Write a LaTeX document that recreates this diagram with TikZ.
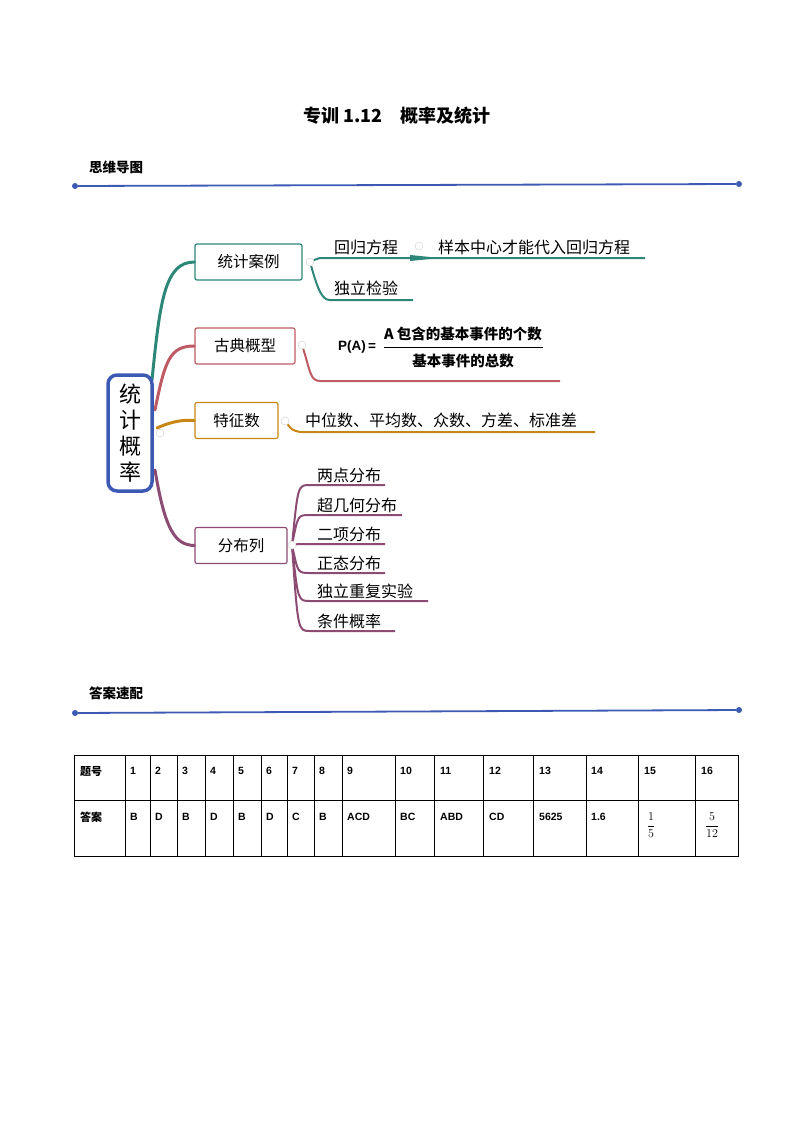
\documentclass[tikz,border=0pt]{standalone}
\usepackage{fontspec}
\setmainfont{Liberation Sans}
\newfontfamily\cjk{Noto Sans CJK SC}
\usetikzlibrary{positioning,backgrounds}
\definecolor{cteal}{RGB}{45,135,120}
\definecolor{cred}{RGB}{190,90,100}
\definecolor{cgold}{RGB}{200,135,20}
\definecolor{cpurp}{RGB}{140,75,115}
\definecolor{cblue}{RGB}{60,90,180}
\tikzset{
 box/.style={draw=#1,line width=1.2pt,rounded corners=2pt,minimum height=36pt,inner sep=0pt,font=\cjk\fontsize{15.5}{17}\selectfont},
 leaf/.style={anchor=south west,inner sep=2pt,font=\cjk\fontsize{16}{18}\selectfont},
 br/.style={draw=#1,line width=3pt,line cap=round},
 knob/.style={circle,draw=gray!40,fill=white,minimum size=8pt,inner sep=0pt},
 tcell/.style={anchor=west,font=\bfseries\fontsize{10.5}{12}\selectfont,inner sep=0pt},
}
\begin{document}
\begin{tikzpicture}[x=1pt,y=-1pt]
\useasboundingbox (0,0) rectangle (794,1123);
\node[font=\cjk\bfseries\fontsize{18}{20}\selectfont] (title) at (397,116) {专训 1.12\quad 概率及统计};
\node[anchor=west,font=\cjk\bfseries\fontsize{13.5}{15}\selectfont,inner sep=0pt] (h1) at (89,167) {思维导图};
\node[circle,fill=cblue,inner sep=0pt,minimum size=6pt] (d1a) at (75,186) {};
\node[circle,fill=cblue,inner sep=0pt,minimum size=6pt] (d1b) at (739,184) {};
\draw[cblue,line width=1.8pt] (d1a) -- (d1b);
\node[anchor=west,font=\cjk\bfseries\fontsize{13.5}{15}\selectfont,inner sep=0pt] (h2) at (89,693) {答案速配};
\node[circle,fill=cblue,inner sep=0pt,minimum size=6pt] (d2a) at (75,713) {};
\node[circle,fill=cblue,inner sep=0pt,minimum size=6pt] (d2b) at (739,710) {};
\draw[cblue,line width=1.8pt] (d2a) -- (d2b);

% mind map
\node[draw=cblue,line width=3.5pt,rounded corners=9pt,minimum width=44pt,minimum height=116pt,align=center,font=\cjk\fontsize{22}{26}\selectfont] (root) at (130,433) {统\\计\\概\\率};
\node[box=cteal,minimum width=107pt] (b1) at (248.5,262) {统计案例};
\node[box=cred,minimum width=100pt] (b2) at (245,346) {古典概型};
\node[box=cgold,minimum width=83pt] (b3) at (236.5,420.5) {特征数};
\node[box=cpurp,minimum width=92pt] (b4) at (241,545.5) {分布列};

\node[knob] (k1) at (310,262) {};
\node[knob] (k11) at (419,246) {};
\node[knob] (k2) at (302,345) {};
\node[knob] (k3) at (285,421) {};
\node[knob] (k4) at (292,545) {};
\node[knob] (k0) at (160,433) {};

\begin{scope}[on background layer]
\draw[br=cteal] (152,380) .. controls (160,300) and (165,262) .. (b1.west);
\draw[br=cred] (155,410) .. controls (165,360) and (170,346) .. (b2.west);
\draw[br=cgold] (157,428) .. controls (175,420) and (185,420) .. (b3.west);
\draw[br=cpurp] (155,470) .. controls (165,530) and (175,545) .. (b4.west);
\end{scope}

% branch 1
\node[leaf] (l11) at (332,257) {回归方程};
\node[leaf] (l12) at (436,257) {样本中心才能代入回归方程};
\coordinate (e11) at (645,258);
\node[leaf] (l13) at (332,298) {独立检验};
\coordinate (e13) at (413,300);
\begin{scope}[on background layer]
\draw[cteal,line width=2pt] (k1) .. controls (318,258) .. (330,258) -- (e11);
\fill[cteal] (410,255) -- (440,258) -- (410,261) -- cycle;
\draw[cteal,line width=2pt] (k1) .. controls (318,290) and (322,300) .. (330,300) -- (e13);
\end{scope}
% branch 2
\node[font=\bfseries\fontsize{13.5}{15}\selectfont,inner sep=0pt,anchor=west] (pa) at (338,347) {P(A)\,=};
\node[font=\cjk\bfseries\fontsize{14.5}{16}\selectfont,inner sep=1pt] (num) at (463,334) {A 包含的基本事件的个数};
\node[font=\cjk\bfseries\fontsize{14.5}{16}\selectfont,inner sep=1pt] (den) at (463,361) {基本事件的总数};
\draw[line width=0.7pt] (384,347) -- (543,347);
\coordinate (e2) at (560,381);
\begin{scope}[on background layer]
\draw[cred,line width=2pt] (k2) .. controls (310,370) and (310,381) .. (320,381) -- (e2);
\end{scope}
% branch 3
\node[leaf] (l3) at (303,430) {中位数、平均数、众数、方差、标准差};
\coordinate (e3) at (595,432);
\begin{scope}[on background layer]
\draw[cgold,line width=2pt] (k3) .. controls (292,430) .. (300,432) -- (e3);
\end{scope}
% branch 4
\foreach \n/\t/\y/\e in {a/两点分布/485/385, b/超几何分布/515/402, c/二项分布/544/385, d/正态分布/573/385, e/独立重复实验/601/428, f/条件概率/631/395}{
  \node[leaf] (l4\n) at (315,\y) {\t};
  \coordinate (e4\n) at (\e,\y);
  \begin{scope}[on background layer]
  \draw[cpurp,line width=2pt] (k4) .. controls (298,\y) .. (310,\y) -- (e4\n);
  \end{scope}
}

% table
\draw[line width=0.6pt] (74,755) rectangle (738,856);
\draw[line width=0.6pt] (74,800) -- (738,800);
\foreach \x in {125,150,177,205,233,261,287,314,342,395,434,483,533,586,638,695}{\draw[line width=0.6pt] (\x,755) -- (\x,856);}
\node[tcell,font=\cjk\bfseries\fontsize{11}{12}\selectfont] (t0) at (80,771) {题号};
\node[tcell,font=\cjk\bfseries\fontsize{11}{12}\selectfont] (a0) at (80,817) {答案};
\foreach \x/\t/\a [count=\i] in {130/1/B,155/2/D,182/3/B,210/4/D,238/5/B,266/6/D,292/7/C,319/8/B,347/9/ACD,400/10/BC,440/11/ABD,489/12/CD,539/13/5625,591/14/1.6}{
  \node[tcell] (t\i) at (\x,771) {\t};
  \node[tcell] (a\i) at (\x,817) {\a};
}
\node[tcell] (t15) at (644,771) {15};
\node[tcell] (t16) at (701,771) {16};
\node[inner sep=0pt,font=\fontsize{13}{14}\selectfont] (a15) at (651,825) {$\displaystyle\frac{1}{5}$};
\node[inner sep=0pt,font=\fontsize{13}{14}\selectfont] (a16) at (712,825) {$\displaystyle\frac{5}{12}$};
\end{tikzpicture}
\end{document}
